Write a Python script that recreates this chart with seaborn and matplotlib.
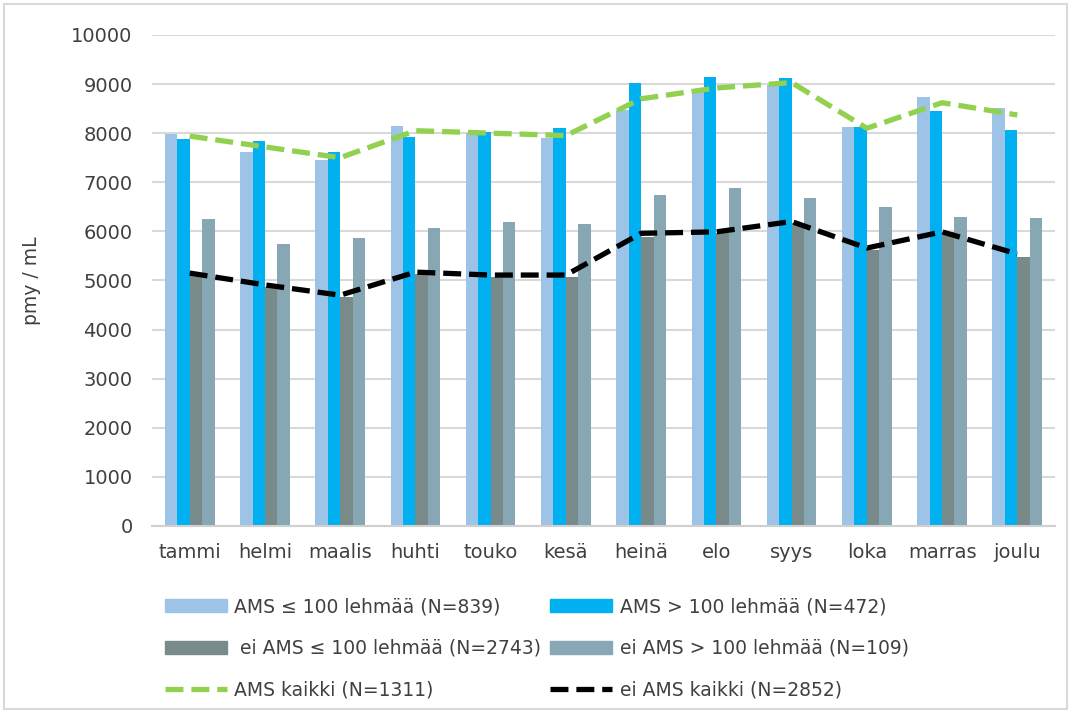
import matplotlib
matplotlib.use('Agg')
import matplotlib.pyplot as plt
from matplotlib.patches import Rectangle
import numpy as np
import pandas as pd
import seaborn as sns

# Data (pmy / mL)
months = ['tammi', 'helmi', 'maalis', 'huhti', 'touko', 'kesä',
          'heinä', 'elo', 'syys', 'loka', 'marras', 'joulu']

ams_small = [7990, 7620, 7450, 8150, 8000, 7900, 8480, 8840, 8980, 8130, 8740, 8520]
ams_large = [7880, 7840, 7620, 7930, 8020, 8110, 9030, 9140, 9120, 8130, 8450, 8060]
eiams_small = [5150, 4870, 4660, 5130, 5070, 5070, 5890, 5960, 6170, 5620, 5990, 5480]
eiams_large = [6250, 5740, 5860, 6070, 6200, 6150, 6740, 6880, 6680, 6500, 6300, 6270]
ams_all = [7940, 7720, 7500, 8050, 8000, 7950, 8700, 8920, 9030, 8100, 8620, 8370]
eiams_all = [5150, 4910, 4700, 5170, 5110, 5110, 5960, 5990, 6200, 5660, 5990, 5540]

bar_labels = ['AMS ≤ 100 lehmää (N=839)', 'AMS > 100 lehmää (N=472)',
              ' ei AMS ≤ 100 lehmää (N=2743)', 'ei AMS > 100 lehmää (N=109)']
line_labels = ['AMS kaikki (N=1311)', 'ei AMS kaikki (N=2852)']

bar_colors = ['#9DC3E6', '#00B0F0', '#798A8A', '#86A7B3']
line_colors = ['#92D050', '#000000']

frames = []
for label, vals in zip(bar_labels, [ams_small, ams_large, eiams_small, eiams_large]):
    frames.append(pd.DataFrame({'kk': months, 'arvo': vals, 'ryhma': label}))
df = pd.concat(frames, ignore_index=True)

sns.set_style('white')
plt.rcParams['font.family'] = ['DejaVu Sans']

fig = plt.figure(figsize=(10.71, 7.13), dpi=100)
ax = fig.add_axes([0.142, 0.2623, 0.843, 0.6887])
fig.patches.append(Rectangle((0.004, 0.006), 0.992, 0.988, transform=fig.transFigure,
                             fill=False, edgecolor='#d9d9d9', linewidth=1.5))

sns.barplot(data=df, x='kk', y='arvo', hue='ryhma', order=months, hue_order=bar_labels,
            palette=bar_colors, width=0.66, saturation=1, ax=ax, legend=False,
            linewidth=0, edgecolor='none', zorder=2)

xs = np.arange(len(months))
line_handles = []
for label, vals, c in zip(line_labels, [ams_all, eiams_all], line_colors):
    h, = ax.plot(xs, vals, color=c, linewidth=3.8, linestyle=(0, (3.4, 1.5)),
                 label=label, zorder=3)
    line_handles.append(h)

ax.set_ylim(0, 10000)
ax.set_xlim(-0.5, len(months) - 0.5)
ax.set_yticks(range(0, 10001, 1000))
ax.yaxis.grid(True, color='#d9d9d9', linewidth=1.5, zorder=0)
ax.set_axisbelow(True)
for s in ['top', 'right', 'left']:
    ax.spines[s].set_visible(False)
ax.spines['bottom'].set_color('#d0d0d0')
ax.spines['bottom'].set_linewidth(1.5)
ax.tick_params(axis='both', length=0, labelsize=14, labelcolor='#404040')
ax.tick_params(axis='y', pad=14)
ax.tick_params(axis='x', pad=12)
ax.set_xlabel('')
ax.set_ylabel('pmy / mL', fontsize=13.5, color='#404040', labelpad=22)

bar_handles = [Rectangle((0, 0), 1, 1, color=c) for c in bar_colors]
handles = [bar_handles[0], bar_handles[2], line_handles[0],
           bar_handles[1], bar_handles[3], line_handles[1]]
labels = [bar_labels[0], bar_labels[2], line_labels[0],
          bar_labels[1], bar_labels[3], line_labels[1]]
fig.legend(handles, labels, ncol=2, loc='upper left', bbox_to_anchor=(0.138, 0.186),
           frameon=False, fontsize=13.5, handlelength=3.3, handletextpad=0.4,
           columnspacing=0.5, labelspacing=1.2, labelcolor='#404040')

plt.savefig('out.png', dpi=100)
plt.close()
